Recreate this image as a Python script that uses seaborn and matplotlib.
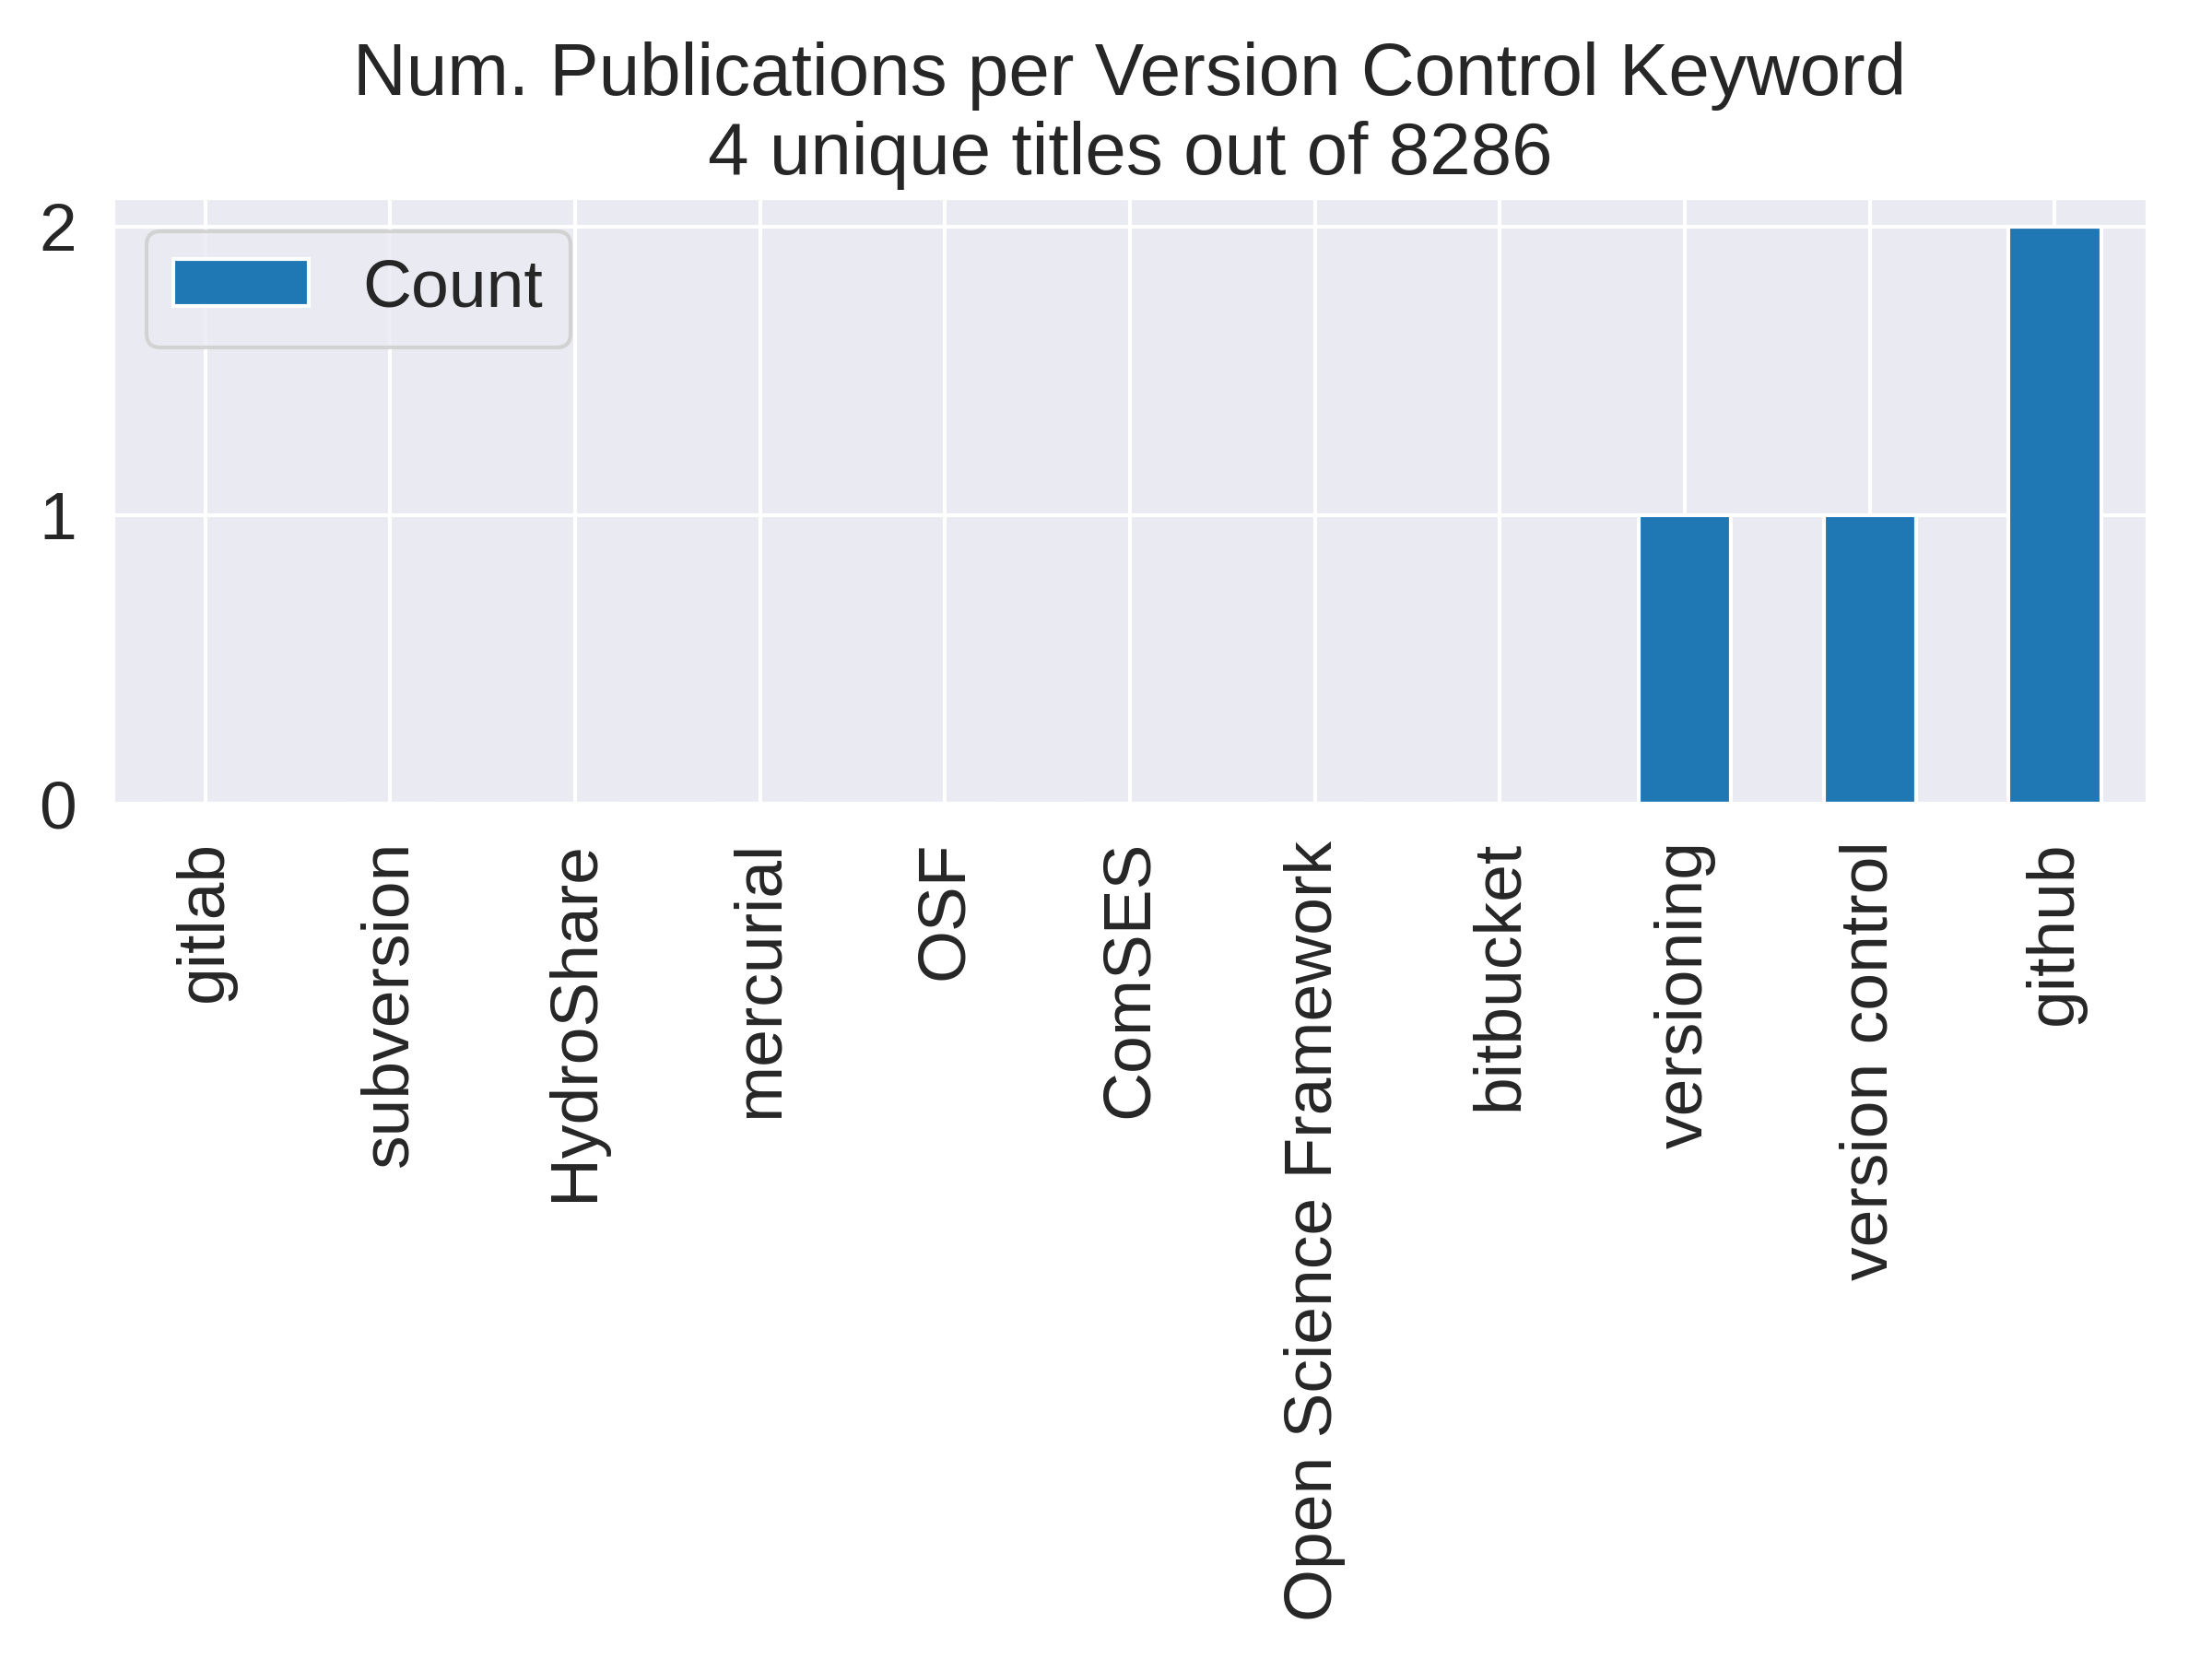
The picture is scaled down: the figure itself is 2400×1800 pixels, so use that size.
import matplotlib
matplotlib.use("Agg")
import matplotlib.pyplot as plt
import seaborn as sns
import pandas as pd

keywords = ["gitlab", "subversion", "HydroShare", "mercurial", "OSF", "ComSES",
            "Open Science Framework", "bitbucket", "versioning", "version control", "github"]
counts = [0, 0, 0, 0, 0, 0, 0, 0, 1, 1, 2]
title_lines = ["Num. Publications per Version Control Keyword", "4 unique titles out of 8286"]

sns.set_theme(context="notebook", style="darkgrid", font_scale=1.6)
plt.rcParams["font.family"] = ["Liberation Sans", "DejaVu Sans"]

df = pd.DataFrame({"keyword": keywords, "Count": counts})
fig, ax = plt.subplots(figsize=(8, 6), dpi=300)
sns.barplot(data=df, x="keyword", y="Count", color="#1f77b4", saturation=1,
            width=0.5, label="Count", ax=ax, edgecolor="white", linewidth=1)
ax.set_xlabel("")
ax.set_ylabel("")
ax.set_yticks([0, 1, 2])
ax.set_xlim(-0.5, len(keywords) - 0.5)
ax.set_ylim(0, 2.1)
ax.grid(True, axis="both")
ax.set_axisbelow(True)
ax.tick_params(axis="x", rotation=90)
ax.set_title("\n".join(title_lines))
ax.legend(loc="upper left")
fig.subplots_adjust(left=0.051, right=0.9707, top=0.881, bottom=0.5153)
fig.savefig("out.png", dpi=300)
